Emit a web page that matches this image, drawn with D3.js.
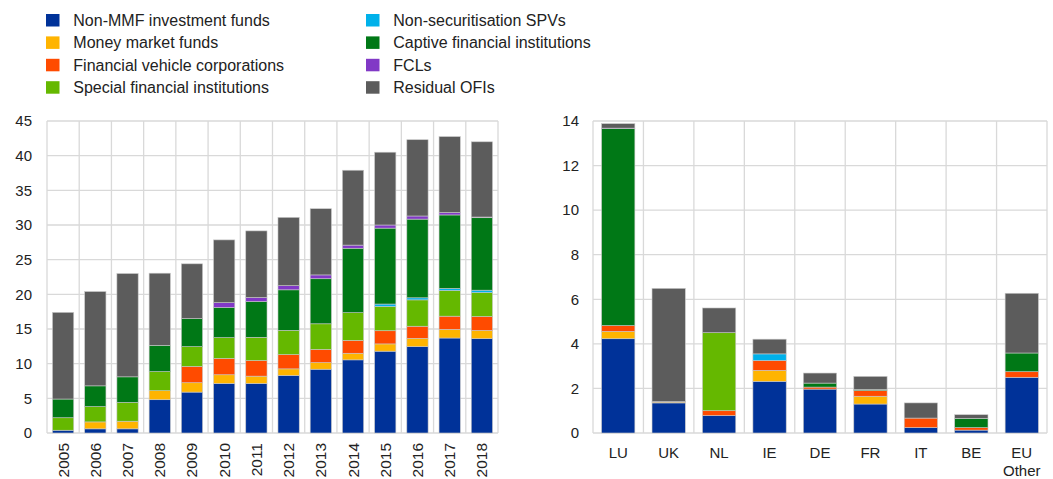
<!DOCTYPE html>
<html>
<head>
<meta charset="utf-8">
<script src="https://cdn.jsdelivr.net/npm/d3@7"></script>
<style>
  body { margin: 0; background: #fff; }
  svg { font-family: "Liberation Sans", Arial, sans-serif; }
</style>
</head>
<body>
<svg id="chart" width="1053" height="479"></svg>
<script>
// series names and colours (in stacking order, bottom to top)
const seriesNames = ["Non-MMF investment funds", "Money market funds", "Financial vehicle corporations",
  "Special financial institutions", "Non-securitisation SPVs", "Captive financial institutions", "FCLs", "Residual OFIs"];
const seriesColors = ["#003299", "#ffb400", "#ff4b00", "#65b800", "#00b1ea", "#007816", "#8139c6", "#5c5c5c"];

// left panel: years
const years = ["2005", "2006", "2007", "2008", "2009", "2010", "2011", "2012", "2013", "2014", "2015", "2016", "2017", "2018"];
const nonMMF   = [0.4, 0.6, 0.6, 4.8, 5.9, 7.15, 7.15, 8.3, 9.2, 10.55, 11.8, 12.45, 13.7, 13.6];
const mmf      = [0, 1.0, 1.1, 1.3, 1.35, 1.25, 1.05, 0.95, 0.95, 0.95, 1.05, 1.2, 1.25, 1.2];
const fvc      = [0, 0, 0, 0, 2.35, 2.35, 2.25, 2.05, 1.9, 1.85, 1.9, 1.75, 1.9, 2.0];
const sfi      = [1.8, 2.2, 2.7, 2.75, 2.85, 3.0, 3.35, 3.5, 3.7, 4.0, 3.5, 3.8, 3.7, 3.45];
const spv      = [0, 0, 0, 0, 0, 0, 0, 0, 0, 0, 0.35, 0.3, 0.3, 0.35];
const captive  = [2.7, 3.0, 3.7, 3.8, 4.05, 4.35, 5.15, 5.85, 6.5, 9.3, 10.95, 11.35, 10.6, 10.45];
const fcl      = [0, 0, 0, 0, 0, 0.7, 0.6, 0.6, 0.55, 0.45, 0.45, 0.45, 0.35, 0.1];
const residual = [12.5, 13.6, 14.9, 10.4, 7.9, 9.05, 9.6, 9.85, 9.55, 10.8, 10.5, 11.0, 10.95, 10.85];
const leftTicks = [0, 5, 10, 15, 20, 25, 30, 35, 40, 45];

// right panel: countries
const countries = ["LU", "UK", "NL", "IE", "DE", "FR", "IT", "BE", "EU Other"];
const cNonMMF   = [4.23, 1.35, 0.78, 2.32, 1.97, 1.3, 0.24, 0.13, 2.5];
const cMmf      = [0.33, 0.04, 0, 0.49, 0, 0.35, 0, 0, 0];
const cFvc      = [0.26, 0.02, 0.22, 0.44, 0.09, 0.25, 0.43, 0.11, 0.25];
const cSfi      = [0, 0, 3.5, 0, 0, 0, 0, 0, 0];
const cSpv      = [0, 0, 0, 0.3, 0, 0, 0, 0, 0];
const cCaptive  = [8.84, 0, 0, 0, 0.18, 0.05, 0, 0.42, 0.84];
const cFcl      = [0.02, 0, 0, 0, 0, 0, 0, 0, 0];
const cResidual = [0.2, 5.08, 1.11, 0.66, 0.45, 0.59, 0.68, 0.16, 2.68];
const rightTicks = [0, 2, 4, 6, 8, 10, 12, 14];

const svg = d3.select("#chart");
const gridColor = "#d9d9d9";

function buildRows(cats, cols) {
  return cats.map((c, i) => {
    const row = { cat: c };
    seriesNames.forEach((s, j) => row[s] = cols[j][i]);
    return row;
  });
}

function drawPanel(opts) {
  const { x0, x1, yTop, yBot, cats, rows, maxY, ticks, rotate, pad, tickGap } = opts;
  const x = d3.scaleBand().domain(cats).range([x0, x1]).paddingInner(pad).paddingOuter(pad / 2);
  const y = d3.scaleLinear().domain([0, maxY]).range([yBot, yTop]);
  const g = svg.append("g");

  // horizontal grid
  g.selectAll(".hg").data(ticks).join("line")
    .attr("x1", x0).attr("x2", x1)
    .attr("y1", d => y(d)).attr("y2", d => y(d))
    .attr("stroke", gridColor).attr("stroke-width", 1.3);
  // vertical grid at band edges
  const edges = cats.map(c => x(c) - x.step() * pad / 2).concat([x1]);
  g.selectAll(".vg").data(edges).join("line")
    .attr("x1", d => d).attr("x2", d => d)
    .attr("y1", yTop).attr("y2", yBot)
    .attr("stroke", gridColor).attr("stroke-width", 1.3);

  // y tick labels
  g.selectAll(".yl").data(ticks).join("text")
    .attr("x", x0 - tickGap).attr("y", d => y(d)).attr("dy", "0.35em")
    .attr("text-anchor", "end").attr("font-size", 15).attr("fill", "#222")
    .text(d => d);

  const stacked = d3.stack().keys(seriesNames)(rows);
  g.selectAll(".layer").data(stacked).join("g")
    .attr("fill", (d, i) => seriesColors[i])
    .selectAll("rect").data(d => d.filter(p => p[1] - p[0] > 0)).join("rect")
    .attr("x", d => x(d.data.cat))
    .attr("width", x.bandwidth())
    .attr("y", d => y(d[1]))
    .attr("height", d => y(d[0]) - y(d[1]))
    .attr("stroke", "#c8c8c8").attr("stroke-width", 0.6);

  // x labels
  if (rotate) {
    g.selectAll(".xl").data(cats).join("text")
      .attr("transform", d => `translate(${x(d) + x.bandwidth() / 2 + 5.5},${yBot + 10}) rotate(-90)`)
      .attr("text-anchor", "end").attr("font-size", 15.5).attr("fill", "#222")
      .text(d => d);
  } else {
    const lbl = g.selectAll(".xl").data(cats).join("text")
      .attr("x", d => x(d) + x.bandwidth() / 2).attr("y", yBot + 24.5)
      .attr("text-anchor", "middle").attr("font-size", 15).attr("fill", "#222");
    lbl.each(function (d) {
      const parts = d.split(" ");
      d3.select(this).selectAll("tspan").data(parts).join("tspan")
        .attr("x", x(d) + x.bandwidth() / 2)
        .attr("dy", (p, i) => i === 0 ? 0 : 18.7)
        .text(p => p);
    });
  }
}

drawPanel({
  x0: 47, x1: 498, yTop: 121, yBot: 433, cats: years, maxY: 45, ticks: leftTicks, rotate: true, pad: 0.34, tickGap: 15,
  rows: buildRows(years, [nonMMF, mmf, fvc, sfi, spv, captive, fcl, residual])
});
drawPanel({
  x0: 593, x1: 1047, yTop: 121, yBot: 433, cats: countries, maxY: 14, ticks: rightTicks, rotate: false, pad: 0.34, tickGap: 14,
  rows: buildRows(countries, [cNonMMF, cMmf, cFvc, cSfi, cSpv, cCaptive, cFcl, cResidual])
});

// legend (two columns of four)
const leg = svg.append("g");
const legItems = leg.selectAll("g").data(seriesNames).join("g")
  .attr("transform", (d, i) => `translate(${i < 4 ? 46 : 366},${14 + (i % 4) * 22.4})`);
legItems.append("rect").attr("width", 13.5).attr("height", 12.5)
  .attr("fill", (d, i) => seriesColors[i]);
legItems.append("text").attr("x", 27.3).attr("y", 6.3).attr("dy", "0.35em")
  .attr("font-size", 16).attr("fill", "#222").text(d => d);
</script>
</body>
</html>
